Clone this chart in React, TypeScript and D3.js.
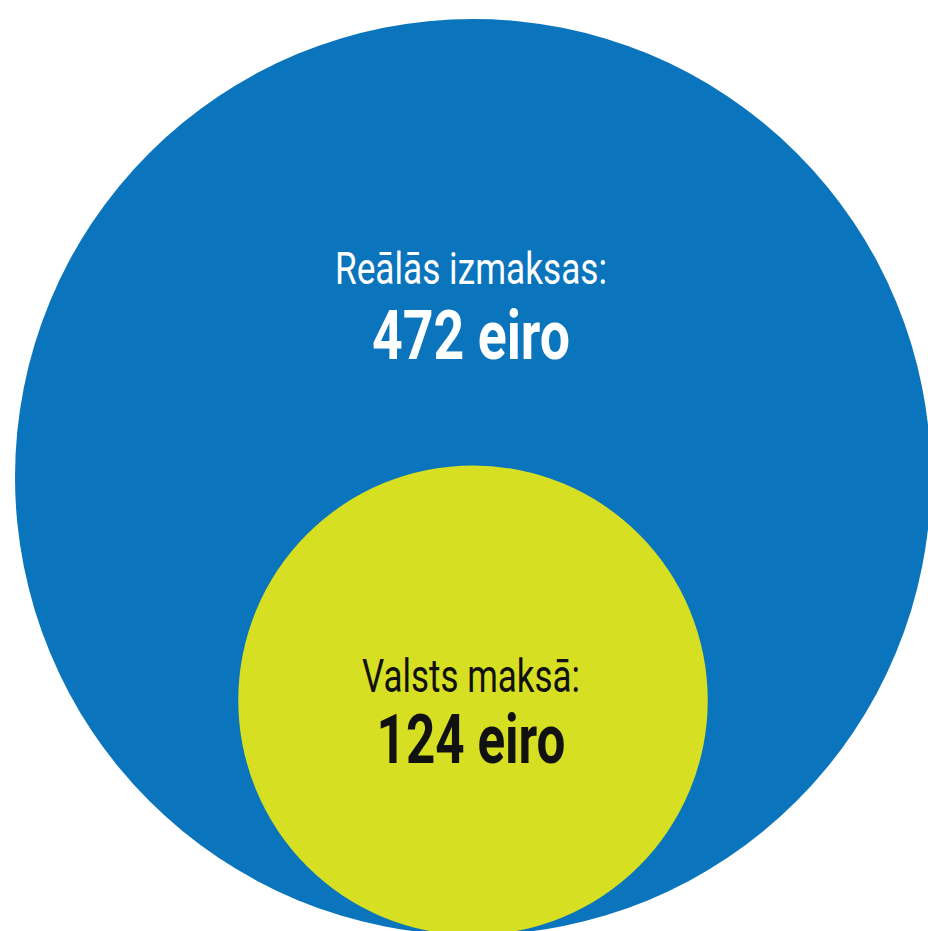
import React from "react";
import * as d3 from "d3";

const labels = ["Reālās izmaksas:", "Valsts maksā:"];
const values = [472, 124];
const unit = "eiro";
const fills = ["#0a75bc", "#d6df22"];
const textColors = ["#ffffff", "#111111"];

const W = 928;
const H = 931;
const CX = 473;
const BOTTOM = 935;

// layout per circle: label baseline offset, value baseline offset (relative to center), widths
const labelDy = [-193, -8.5];
const valueDy = [-118, 62.5];
const labelSize = [44, 47];
const valueSize = [69, 69];
const labelLen = [272, 218];
const valueLen = [198, 189];

export default function App() {
  const r = d3.scaleSqrt().domain([0, d3.max(values) as number]).range([0, 458]);
  const circles = values.map((v, i) => {
    const rad = r(v);
    return { v, i, rad, cx: CX, cy: BOTTOM - rad };
  });
  return (
    <svg
      width={W}
      height={H}
      style={{ position: "absolute", left: 0, top: 0, display: "block" }}
    >
      {circles.map((c) => (
        <circle key={"c" + c.i} cx={c.cx} cy={c.cy} r={c.rad} fill={fills[c.i]} />
      ))}
      {circles.map((c) => (
        <g key={"t" + c.i} fill={textColors[c.i]} fontFamily="Roboto, 'Noto Sans', sans-serif" textAnchor="middle">
          <text
            x={c.cx - 2}
            y={c.cy + labelDy[c.i]}
            fontSize={labelSize[c.i]}
            fontWeight={400}
            textLength={labelLen[c.i]}
            lengthAdjust="spacingAndGlyphs"
          >
            {labels[c.i]}
          </text>
          <text
            x={c.cx - 2}
            y={c.cy + valueDy[c.i]}
            fontSize={valueSize[c.i]}
            fontWeight={700}
            textLength={valueLen[c.i]}
            lengthAdjust="spacingAndGlyphs"
          >
            {`${c.v} ${unit}`}
          </text>
        </g>
      ))}
    </svg>
  );
}
